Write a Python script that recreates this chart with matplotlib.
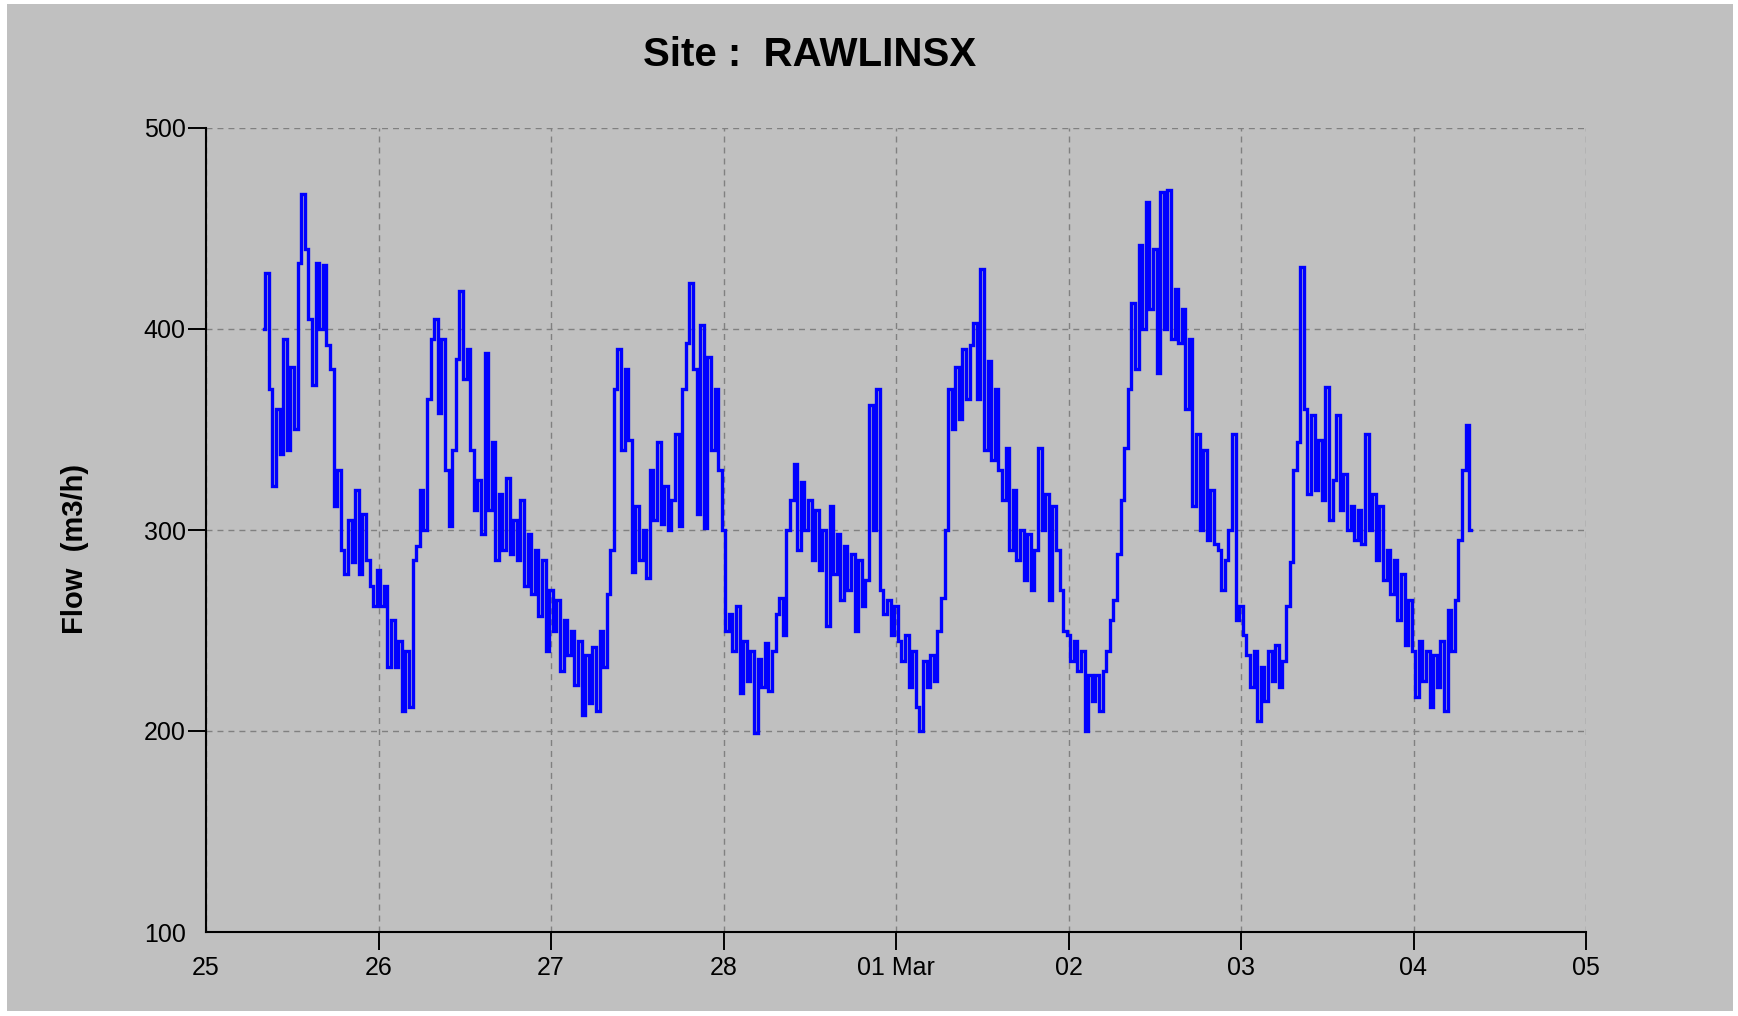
import matplotlib
matplotlib.use('Agg')
import matplotlib.pyplot as plt
import pandas as pd
from matplotlib.patches import Rectangle

plt.rcParams['font.family'] = ['Liberation Sans', 'DejaVu Sans']

# ---- data (30-minute readings, m3/h) ----
start_time = '2009-02-25 08:00'
flow_feb25 = [400, 428, 370, 322, 360, 338, 395, 340, 381, 350, 433, 467, 440, 405, 372, 433,
              400, 432, 392, 380, 312, 330, 290, 278, 305, 284, 320, 278, 308, 285, 272, 262]
flow_feb26 = [280, 262, 272, 232, 255, 232, 245, 210, 240, 212, 285, 292, 320, 300, 365, 395,
              405, 358, 395, 330, 302, 340, 385, 419, 375, 390, 340, 310, 325, 298, 388, 310,
              344, 285, 318, 290, 326, 288, 305, 285, 315, 272, 298, 268, 290, 257, 285, 240]
flow_feb27 = [270, 250, 265, 230, 255, 238, 250, 223, 245, 208, 238, 214, 242, 210, 250, 232,
              268, 290, 370, 390, 340, 380, 345, 279, 312, 285, 300, 276, 330, 305, 344, 303,
              322, 300, 315, 348, 302, 370, 393, 423, 380, 308, 402, 301, 386, 340, 370, 330]
flow_feb28 = [300, 250, 258, 240, 262, 219, 245, 225, 240, 199, 236, 222, 244, 220, 240, 258,
              266, 248, 300, 315, 333, 290, 324, 300, 315, 285, 310, 280, 300, 252, 312, 278,
              298, 265, 292, 270, 288, 250, 285, 262, 275, 362, 300, 370, 270, 258, 265, 248]
flow_mar01 = [262, 245, 235, 248, 222, 240, 212, 200, 235, 222, 238, 225, 250, 266, 300, 370,
              350, 381, 355, 390, 365, 392, 403, 365, 430, 340, 384, 335, 370, 330, 315, 341,
              290, 320, 285, 300, 275, 298, 270, 290, 341, 300, 318, 265, 312, 290, 270, 250]
flow_mar02 = [248, 235, 245, 230, 240, 200, 228, 215, 228, 210, 230, 240, 255, 265, 288, 315,
              341, 370, 413, 380, 442, 400, 463, 410, 440, 378, 468, 400, 469, 395, 420, 393,
              410, 360, 395, 312, 348, 300, 340, 295, 320, 293, 290, 270, 285, 300, 348, 255]
flow_mar03 = [262, 248, 238, 222, 240, 205, 232, 215, 240, 225, 243, 222, 235, 262, 284, 330,
              344, 431, 360, 318, 357, 320, 345, 315, 371, 305, 325, 357, 310, 328, 300, 312,
              295, 310, 293, 348, 300, 318, 285, 312, 275, 290, 268, 285, 255, 278, 243, 265]
flow_mar04 = [240, 217, 245, 225, 240, 212, 238, 222, 245, 210, 260, 240, 265, 295, 330, 352, 300]

x_tick_labels = ['25', '26', '27', '28', '01 Mar', '02', '03', '04', '05']
y_ticks = [100, 200, 300, 400, 500]
title_text = 'Site :  RAWLINSX'
y_label = 'Flow  (m3/h)'

flow = (flow_feb25 + flow_feb26 + flow_feb27 + flow_feb28 +
        flow_mar01 + flow_mar02 + flow_mar03 + flow_mar04)
times = pd.date_range(start_time, periods=len(flow), freq='30min')
tick_dates = pd.date_range('2009-02-25', '2009-03-05', freq='D')

W, H = 1738, 1016
fig = plt.figure(figsize=(W / 100, H / 100), dpi=100, facecolor='white')
fig.patches.append(Rectangle((7 / W, 1 - 1011 / H), (1733 - 7) / W, (1011 - 4) / H,
                             transform=fig.transFigure, facecolor='#c0c0c0',
                             edgecolor='none', zorder=-10))

ax = fig.add_axes([206 / W, 1 - 932 / H, (1586 - 206) / W, (932 - 128) / H])
ax.set_facecolor('#c0c0c0')
ax.set_axisbelow(True)

ax.plot(times, flow, color='#0000ff', lw=2.4, drawstyle='steps-mid',
        solid_joinstyle='miter', zorder=3)

ax.set_xlim(tick_dates[0], tick_dates[-1])
ax.set_xticks(tick_dates)
ax.set_xticklabels(x_tick_labels)
ax.set_ylim(100, 500)
ax.set_yticks(y_ticks)
ax.set_yticklabels([str(v) for v in y_ticks])

ax.grid(True, color='#808080', linestyle=(0, (4.3, 3.6)), linewidth=1.0)

for side in ['top', 'right']:
    ax.spines[side].set_visible(False)
for side in ['left', 'bottom']:
    ax.spines[side].set_color('black')
    ax.spines[side].set_linewidth(1.5)

ax.tick_params(axis='both', direction='out', length=13, width=1.4,
               labelsize=18, colors='black')
ax.tick_params(axis='y', pad=1.5)
ax.tick_params(axis='x', pad=4)
ax.xaxis.get_major_ticks()[0].tick1line.set_visible(False)
ax.yaxis.get_major_ticks()[0].tick1line.set_visible(False)

fig.text(810 / W, 1 - 55 / H, title_text, ha='center', va='center',
         fontsize=29, fontweight='bold')
fig.text(75 / W, 1 - 549 / H, y_label, rotation=90, ha='center', va='center',
         fontsize=21, fontweight='bold')

fig.savefig('out.png', dpi=100, facecolor=fig.get_facecolor())
